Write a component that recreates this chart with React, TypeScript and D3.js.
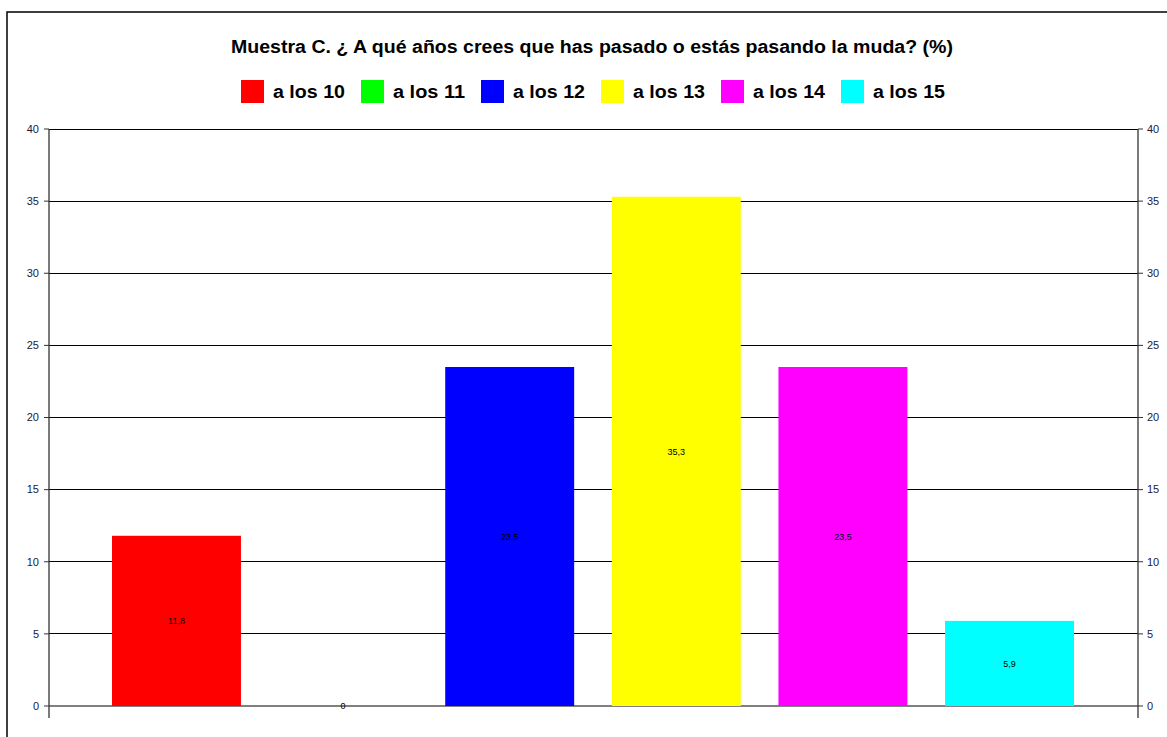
import React from "react";
import * as d3 from "d3";

const title = "Muestra C. ¿ A qué años crees que has pasado o estás pasando la muda? (%)";
const seriesNames = ["a los 10", "a los 11", "a los 12", "a los 13", "a los 14", "a los 15"];
const seriesValues = [11.8, 0, 23.5, 35.3, 23.5, 5.9];
const seriesLabels = ["11,8", "0", "23,5", "35,3", "23,5", "5,9"];
const seriesColors = ["#FF0000", "#00FF00", "#0000FF", "#FFFF00", "#FF00FF", "#00FFFF"];
const yTicks = [0, 5, 10, 15, 20, 25, 30, 35, 40];

const W = 1167;
const H = 737;
const plotLeft = 49;
const plotRight = 1138;
const plotTop = 129;
const plotBottom = 706;

export default function App() {
  const y = d3.scaleLinear().domain([0, 40]).range([plotBottom, plotTop]);
  const x = d3
    .scaleBand<string>()
    .domain(seriesNames)
    .range([plotLeft + 63, plotRight - 64])
    .paddingInner(0.226)
    .paddingOuter(0);
  const font = "Arial, 'Liberation Sans', sans-serif";
  const legendStart = 241;
  const legendStep = 120;

  return (
    <svg
      width={W}
      height={H}
      style={{ position: "absolute", left: 0, top: 0, background: "#fff" }}
      fontFamily={font}
    >
      <rect x={0} y={0} width={W} height={H} fill="#fff" />
      <rect x={7} y={12} width={1300} height={900} fill="none" stroke="#000" strokeWidth={1.5} />

      <text
        x={592}
        y={53}
        textAnchor="middle"
        fontSize={18}
        fontWeight="bold"
        fill="#000"
        textLength={722}
        lengthAdjust="spacingAndGlyphs"
      >
        {title}
      </text>

      {seriesNames.map((s, i) => (
        <g key={s}>
          <rect
            x={legendStart + i * legendStep}
            y={80}
            width={23}
            height={23}
            fill={seriesColors[i]}
          />
          <text
            x={legendStart + i * legendStep + 32}
            y={98}
            fontSize={18}
            fontWeight="bold"
            fill="#000"
            textLength={72}
            lengthAdjust="spacingAndGlyphs"
          >
            {s}
          </text>
        </g>
      ))}

      {/* gridlines */}
      {yTicks
        .filter((t) => t !== 0)
        .map((t) => (
          <line
            key={t}
            x1={plotLeft}
            x2={plotRight}
            y1={y(t)}
            y2={y(t)}
            stroke="#000"
            strokeWidth={1}
            shapeRendering="crispEdges"
          />
        ))}
      <line
        x1={plotLeft}
        x2={plotRight}
        y1={y(0)}
        y2={y(0)}
        stroke="#808080"
        strokeWidth={2}
        shapeRendering="crispEdges"
      />

      {/* bars */}
      {seriesNames.map((s, i) => {
        const v = seriesValues[i];
        const bx = x(s)!;
        return (
          <rect
            key={s}
            x={bx}
            y={y(v)}
            width={x.bandwidth()}
            height={y(0) - y(v)}
            fill={seriesColors[i]}
          />
        );
      })}

      {/* axes */}
      <line x1={plotLeft} x2={plotLeft} y1={plotTop} y2={718} stroke="#333" strokeWidth={1.3} />
      <line x1={plotRight} x2={plotRight} y1={plotTop} y2={718} stroke="#333" strokeWidth={1.3} />
      {yTicks.map((t) => (
        <g key={t}>
          <line x1={plotLeft - 5} x2={plotLeft} y1={y(t)} y2={y(t)} stroke="#333" strokeWidth={1} />
          <line x1={plotRight} x2={plotRight + 5} y1={y(t)} y2={y(t)} stroke="#333" strokeWidth={1} />
          <text
            x={plotLeft - 10}
            y={y(t)}
            dy="0.35em"
            textAnchor="end"
            fontSize={11}
            fill="#1a1a3a"
          >
            {t}
          </text>
          <text x={plotRight + 9} y={y(t)} dy="0.35em" textAnchor="start" fontSize={11} fill="#1a1a3a">
            {t}
          </text>
        </g>
      ))}

      {/* data labels */}
      {seriesNames.map((s, i) => {
        const v = seriesValues[i];
        const cx = x(s)! + x.bandwidth() / 2;
        const cy = (y(v) + y(0)) / 2;
        return (
          <text key={s} x={cx} y={cy} dy="0.35em" textAnchor="middle" fontSize={9} fill="#000">
            {seriesLabels[i]}
          </text>
        );
      })}
    </svg>
  );
}
